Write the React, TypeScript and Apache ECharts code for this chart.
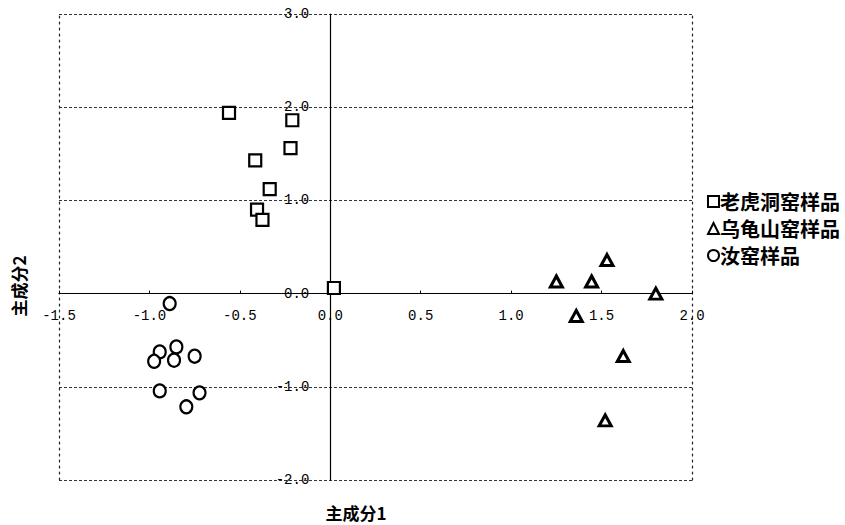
import React, { useEffect, useRef } from "react";
import * as echarts from "echarts";

const seriesNames = ["老虎洞窑样品", "乌龟山窑样品", "汝窑样品"];

const laohudong: [number, number][] = [
  [-0.56, 1.94], [-0.21, 1.86], [-0.22, 1.56], [-0.415, 1.43],
  [-0.335, 1.12], [-0.405, 0.9], [-0.375, 0.79], [0.02, 0.06],
];
const wuguishan: [number, number][] = [
  [1.53, 0.36], [1.25, 0.13], [1.445, 0.13], [1.8, 0.0],
  [1.36, -0.24], [1.62, -0.67], [1.52, -1.36],
];
const ruyao: [number, number][] = [
  [-0.888, -0.107], [-0.943, -0.626], [-0.851, -0.572], [-0.974, -0.726],
  [-0.864, -0.715], [-0.75, -0.672], [-0.943, -1.044], [-0.723, -1.065],
  [-0.796, -1.215],
];

const xName = "主成分1";
const yName = "主成分2";
const xRange = [-1.5, 2.0];
const yRange = [-2.0, 3.0];

const monoFont = "'Liberation Mono', 'DejaVu Sans Mono', monospace";
const cjkFont = "'Noto Sans CJK SC', sans-serif";

const W = 845;
const H = 525;
const GRID = { left: 59, right: 153, top: 14, bottom: 45 };

export default function App() {
  const ref = useRef<HTMLDivElement>(null);
  useEffect(() => {
    if (!ref.current) return;
    const chart = echarts.init(ref.current, undefined, { renderer: "svg" });
    const gw = W - GRID.left - GRID.right;
    const gh = H - GRID.top - GRID.bottom;
    // move axes so they cross at zero
    const xOffset = -((0 - yRange[0]) / (yRange[1] - yRange[0])) * gh;
    const yOffset = -((0 - xRange[0]) / (xRange[1] - xRange[0])) * gw;
    const borderAxis = (pos: "left" | "right") => ({
      type: "value",
      min: yRange[0],
      max: yRange[1],
      interval: 1,
      position: pos,
      axisLine: { show: true, onZero: false, lineStyle: { color: "#222", type: [2, 4], width: 1.2 } },
      axisTick: { show: false },
      axisLabel: { show: false },
      splitLine: { show: false },
    });
    chart.setOption({
      animation: false,
      backgroundColor: "#fff",
      grid: GRID,
      legend: {
        orient: "vertical",
        left: 702,
        top: 186,
        itemWidth: 11,
        itemHeight: 11,
        itemGap: 6,
        data: seriesNames,
        textStyle: { fontSize: 20, fontWeight: "bold", color: "#000", fontFamily: cjkFont, lineHeight: 21, padding: [0, 0, 0, -4] },
      },
      xAxis: {
        type: "value",
        min: xRange[0],
        max: xRange[1],
        interval: 0.5,
        position: "bottom",
        offset: xOffset,
        axisLine: { onZero: false, lineStyle: { color: "#000", width: 1.2 } },
        axisTick: { show: true, inside: true, length: 3, lineStyle: { color: "#000" } },
        axisLabel: {
          margin: 15,
          fontSize: 14,
          color: "#000",
          fontFamily: monoFont,
          formatter: (v: number) => v.toFixed(1),
        },
        splitLine: { show: false },
      },
      yAxis: [
        {
          type: "value",
          min: yRange[0],
          max: yRange[1],
          interval: 1,
          position: "left",
          offset: yOffset,
          axisLine: { onZero: false, lineStyle: { color: "#000", width: 1.2 } },
          axisTick: { show: false },
          axisLabel: {
            margin: 21,
            fontSize: 14,
            color: "#000",
            fontFamily: monoFont,
            formatter: (v: number) => v.toFixed(1),
          },
          splitLine: { show: true, lineStyle: { color: "#333", type: [3, 2], width: 1 } },
        },
        borderAxis("left"),
        borderAxis("right"),
      ],
      graphic: [
        {
          type: "text",
          x: 18,
          y: 286,
          rotation: Math.PI / 2,
          style: { text: yName, fontSize: 17, fontWeight: "bold", fill: "#000", fontFamily: cjkFont, align: "center", verticalAlign: "middle" },
        },
        {
          type: "text",
          x: 356,
          y: 512,
          style: { text: xName, fontSize: 17, fontWeight: "bold", fill: "#000", fontFamily: cjkFont, align: "center", verticalAlign: "middle" },
        },
      ],
      series: [
        {
          name: seriesNames[0],
          type: "scatter",
          symbol: "rect",
          symbolSize: 12,
          data: laohudong,
          itemStyle: { color: "#fff", borderColor: "#000", borderWidth: 2.2, opacity: 1 },
        },
        {
          name: seriesNames[1],
          type: "scatter",
          symbol: "triangle",
          symbolSize: [12, 11],
          data: wuguishan,
          itemStyle: { color: "#fff", borderColor: "#000", borderWidth: 3, opacity: 1 },
        },
        {
          name: seriesNames[2],
          type: "scatter",
          symbol: "circle",
          symbolSize: [12, 13],
          data: ruyao,
          itemStyle: { color: "#fff", borderColor: "#000", borderWidth: 2.2, opacity: 1 },
        },
      ],
    });
    return () => chart.dispose();
  }, []);
  return <div ref={ref} style={{ position: "fixed", left: 0, top: 0, width: W, height: H }} />;
}
